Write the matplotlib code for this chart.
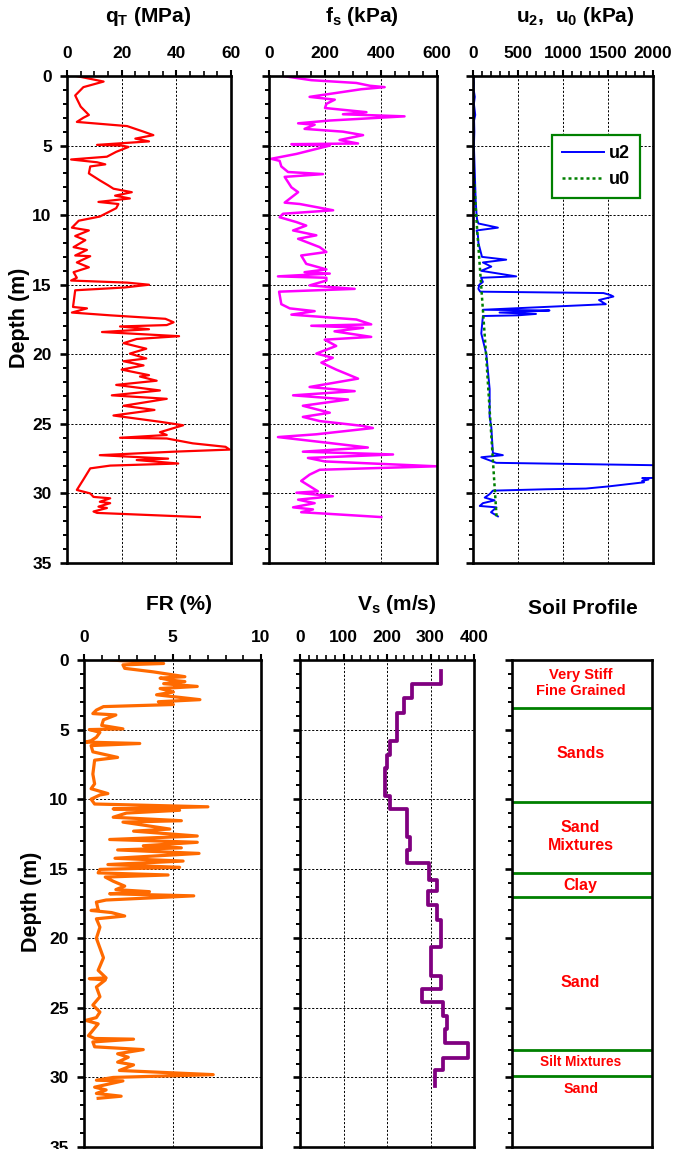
import matplotlib
matplotlib.use("Agg")
import matplotlib.pyplot as plt
import numpy as np
from matplotlib.ticker import MultipleLocator

plt.rcParams['font.family'] = ['Liberation Sans', 'DejaVu Sans']
plt.rcParams['font.weight'] = 'bold'
plt.rcParams['mathtext.fontset'] = 'custom'
plt.rcParams['mathtext.rm'] = 'Liberation Sans:bold'
plt.rcParams['mathtext.it'] = 'Liberation Sans:bold'
plt.rcParams['mathtext.bf'] = 'Liberation Sans:bold'

# ---------------- data (depth m, value) ----------------
QT = [(0.0, 3.4), (0.4, 13.4), (0.8, 6), (1.4, 3), (1.8, 4), (2.2, 5), (2.5, 6.5), (2.8, 8), (3.0, 6),
      (3.3, 3.6), (3.6, 22), (3.8, 25), (4.0, 28), (4.25, 31.6), (4.5, 25), (4.7, 30), (4.95, 11),
      (5.0, 20), (5.1, 22.5), (5.45, 18), (5.8, 14.6), (6.0, 1.5), (6.2, 11), (6.35, 14), (6.5, 8.5),
      (7.0, 8), (7.5, 12), (7.85, 15), (8.1, 17), (8.35, 23.7), (8.6, 17.6), (8.8, 23), (9.05, 11.5),
      (9.2, 18.8), (9.5, 18), (10.1, 12), (10.4, 4.3), (10.9, 1.8), (11.1, 8), (11.5, 3), (11.8, 6.7),
      (12.3, 2.4), (12.5, 7.3), (12.9, 3), (12.95, 8.5), (13.4, 3.6), (13.75, 8), (14.1, 2.4),
      (14.5, 3.6), (14.7, 1.5), (14.85, 22), (15.0, 30), (15.2, 21), (15.4, 3), (16.6, 2.2),
      (16.7, 7.3), (17.0, 1.8), (17.2, 15.8), (17.45, 36), (17.7, 39), (17.9, 36.5), (18.0, 19.4),
      (18.2, 30), (18.4, 12.8), (18.7, 41), (18.9, 25.5), (19.2, 20.7), (19.6, 29), (19.95, 23),
      (20.3, 29), (20.5, 20.7), (20.8, 28), (21.1, 20), (21.5, 30), (21.6, 26.7), (21.9, 32.8),
      (22.2, 18), (22.6, 34), (22.95, 16.4), (23.2, 36.5), (23.7, 20.7), (24.0, 32), (24.4, 17),
      (24.85, 34), (25.1, 42.5), (25.6, 34), (25.8, 36.5), (26.0, 19.4), (26.05, 36.5), (26.4, 46),
      (26.65, 58), (26.85, 59.5), (27.0, 39), (27.25, 12), (27.5, 37), (27.6, 25.5), (27.85, 40.7),
      (28.0, 15.8), (28.2, 8.5), (29.0, 6), (29.75, 3.6), (30.0, 8.5), (30.25, 9.7), (30.35, 15.8),
      (30.6, 12), (30.7, 15.8), (30.95, 11.5), (31.05, 14.6), (31.3, 9.7), (31.4, 11), (31.7, 48.6)]

FS = [(0, 50), (0.3, 151), (0.5, 312), (0.7, 360), (0.8, 413), (0.95, 330), (1.5, 145), (1.7, 235),
      (2.0, 205), (2.3, 200), (2.6, 348), (2.75, 264), (2.9, 484), (3.2, 217), (3.4, 104), (3.5, 163),
      (3.8, 127), (4.0, 264), (4.25, 336), (4.6, 252), (4.85, 318), (4.9, 80), (5.0, 217), (5.6, 98),
      (5.95, 8), (6.1, 38), (6.5, 44), (6.9, 68), (7.05, 193), (7.25, 56), (8.0, 80), (8.35, 104),
      (9.1, 56), (9.2, 110), (9.65, 229), (9.9, 50), (10.15, 38), (10.5, 98), (10.75, 133), (11.1, 86),
      (11.45, 169), (11.7, 104), (12.3, 181), (12.65, 205), (12.9, 115), (13.5, 133), (13.9, 205),
      (14.1, 127), (14.2, 217), (14.4, 32), (14.5, 205), (14.7, 205), (15.05, 145), (15.3, 306),
      (15.5, 36), (16.4, 44), (16.7, 74), (16.9, 163), (17.15, 80), (17.5, 312), (17.85, 365),
      (17.95, 151), (18.1, 336), (18.35, 234), (18.75, 365), (18.95, 199), (19.4, 240), (19.95, 169),
      (20.25, 228), (20.6, 187), (21.1, 240), (21.45, 282), (21.75, 318), (22.35, 145), (22.65, 306),
      (22.95, 86), (23.25, 282), (23.7, 121), (24.2, 217), (24.5, 121), (24.8, 181), (25.15, 336),
      (25.3, 371), (25.75, 169), (25.95, 32), (26.35, 205), (26.7, 353), (27.0, 121), (27.2, 443),
      (27.45, 139), (27.7, 199), (28.05, 597), (28.3, 181), (28.65, 145), (29.1, 115), (29.85, 175),
      (29.95, 98), (30.2, 228), (30.45, 104), (30.7, 163), (31.0, 86), (31.15, 157), (31.35, 115),
      (31.45, 199), (31.7, 401)]

U2 = [(0, 5), (0.5, 10), (1, 8), (1.5, 20), (2, 10), (2.8, 25), (3.2, 12), (4, 15), (5, 10), (6, 15),
      (7, 20), (8, 25), (9, 30), (10, 40), (10.3, 45), (10.6, 60), (10.9, 277), (11.1, 40), (11.5, 55),
      (12, 60), (12.5, 80), (13.0, 100), (13.2, 369), (13.4, 110), (13.7, 203), (14.0, 90),
      (14.4, 480), (14.5, 90), (14.8, 110), (15.0, 70), (15.3, 60), (15.5, 80), (15.6, 1450),
      (15.75, 1530), (15.85, 1560), (16.1, 1400), (16.3, 1450), (16.4, 1476), (16.8, 110),
      (16.85, 850), (16.9, 700), (17.0, 295), (17.1, 700), (17.2, 500), (17.25, 110), (18.5, 92),
      (20, 148), (22.5, 185), (24.5, 185), (25.2, 203), (27.1, 221), (27.25, 332), (27.4, 92),
      (27.8, 258), (28.0, 2300), (28.85, 2300), (28.9, 1880), (29.0, 1950), (29.1, 1880),
      (29.2, 1900), (29.5, 1500), (29.65, 1255), (29.7, 812), (29.8, 221), (30.05, 185), (30.3, 130),
      (30.5, 240), (30.7, 110), (30.9, 75), (31.0, 260), (31.35, 200), (31.65, 277)]

U0 = [(0, 0), (6, 0), (10, 35), (15, 90), (20, 145), (25, 195), (30, 245), (31.7, 262)]

FR = [(0, 1.55), (0.25, 4.5), (0.35, 2.2), (0.6, 2.3), (0.85, 3.9), (1.2, 5.7), (1.3, 4.3),
      (1.45, 4.9), (1.55, 5.7), (1.7, 4.5), (1.9, 6.4), (2.05, 4.3), (2.3, 5.05), (2.5, 4.1),
      (2.85, 6.55), (3.0, 4.2), (3.2, 5.05), (3.35, 1.1), (3.6, 0.7), (3.85, 0.5), (3.95, 1.8),
      (4.3, 1.1), (4.7, 1.0), (4.95, 2.2), (5.0, 0.3), (5.2, 0.9), (5.55, 0.7), (5.8, 0.4), (5.9, 0.1),
      (6.0, 3.15), (6.15, 0.4), (6.6, 0.5), (7.0, 1.9), (7.2, 0.6), (8.2, 0.5), (8.9, 0.6), (9.25, 0.4),
      (9.6, 1.35), (9.7, 0.9), (10.0, 0.4), (10.35, 0.6), (10.55, 7.0), (10.7, 1.65), (10.8, 5.4),
      (11.0, 2.4), (11.3, 1.65), (11.55, 5.5), (11.65, 2.2), (12.15, 4.85), (12.3, 2.8), (12.65, 6.4),
      (12.9, 1.45), (13.1, 6.4), (13.35, 3.35), (13.5, 5.5), (13.65, 1.9), (13.9, 6.5), (14.25, 1.75),
      (14.45, 5.6), (14.7, 1.35), (14.9, 5.4), (15.05, 0.9), (15.3, 0.8), (15.45, 4.75), (15.6, 1.2),
      (15.9, 1.65), (16.25, 2.3), (16.5, 1.8), (16.65, 3.7), (16.8, 1.45), (16.95, 6.2), (17.25, 1.25),
      (17.4, 0.7), (17.95, 0.8), (18.0, 0.4), (18.15, 1.55), (18.4, 2.3), (18.6, 0.7), (19.2, 0.9),
      (20.0, 0.7), (21.4, 1.1), (22.3, 0.8), (22.85, 1.25), (22.9, 0.3), (23.0, 1.2), (23.5, 0.7),
      (24.2, 0.9), (24.8, 0.5), (25.3, 0.9), (25.7, 0.7), (25.9, 0.1), (26.15, 0.8), (27.0, 0.25),
      (27.2, 0.6), (27.25, 2.8), (27.45, 0.5), (27.8, 0.6), (28.0, 3.35), (28.3, 1.9), (28.55, 2.5),
      (28.9, 1.9), (29.1, 2.8), (29.5, 2.0), (29.8, 7.3), (30.0, 1.65), (30.2, 0.7), (30.25, 2.2),
      (30.7, 0.6), (30.9, 1.25), (31.15, 0.7), (31.35, 2.1), (31.5, 0.8)]

VS_TOP = [0.77, 1.75, 2.75, 3.8, 5.8, 6.85, 7.75, 9.8, 10.7, 12.75, 13.65, 14.6, 15.8, 16.6,
          17.6, 18.65, 20.6, 22.7, 23.65, 24.55, 25.6, 26.55, 27.5, 28.6, 29.5, 29.8]
VS_BOTTOM = 30.6
VS = [323, 258, 239, 224, 208, 200, 195, 208, 245, 252, 246, 297, 314, 295,
      314, 325, 300, 325, 281, 329, 337, 333, 386, 329, 310, 311]

SOIL_BOUNDS = [3.45, 10.2, 15.3, 17.0, 28.0, 29.9]
SOIL_LABELS = ["Very Stiff\nFine Grained", "Sands", "Sand\nMixtures", "Clay", "Sand",
               "Silt Mixtures", "Sand"]
SOIL_LABEL_DEPTHS = [1.65, 6.7, 12.65, 16.2, 23.2, 28.9, 30.8]
SOIL_LABEL_SIZES = [10.5, 11.5, 11.5, 11.5, 11.5, 9.8, 10.3]

# ---------------- figure ----------------
W, H = 673, 1149
fig = plt.figure(figsize=(W / 100, H / 100), dpi=100)


def add_ax(l, t, r, b):
    return fig.add_axes([l / W, 1 - b / H, (r - l) / W, (b - t) / H])


grid_ls = (0, (2.2, 1.8))
TICK_FS = 12.5


def style(ax, xlim, xmajor, xminor, ylabels=False, grid=True, xticks=True):
    ax.set_ylim(35, 0)
    ax.set_xlim(*xlim)
    ax.yaxis.set_major_locator(MultipleLocator(5))
    ax.yaxis.set_minor_locator(MultipleLocator(1))
    for s in ax.spines.values():
        s.set_linewidth(1.9)
    ax.tick_params(axis='y', which='major', direction='out', length=5, width=1.9,
                   labelsize=TICK_FS, pad=6, left=True, right=False, labelleft=ylabels)
    ax.tick_params(axis='y', which='minor', direction='out', length=3, width=1.4,
                   left=True, right=False)
    if xticks:
        ax.set_xticks(xmajor)
        ax.xaxis.set_minor_locator(MultipleLocator(xminor))
        ax.tick_params(axis='x', which='major', direction='out', length=4, width=1.5,
                       labelsize=TICK_FS, pad=7, top=True, bottom=False, labeltop=True,
                       labelbottom=False)
        ax.tick_params(axis='x', which='minor', direction='out', length=3.5, width=1.2,
                       top=True, bottom=False)
    else:
        ax.set_xticks([])
    if grid:
        ax.grid(True, which='major', color='black', linestyle=grid_ls, linewidth=0.7)
    for lab in ax.get_xticklabels() + ax.get_yticklabels():
        lab.set_fontweight('bold')


# Top row
ax1 = add_ax(67, 76, 231, 563)
d, v = zip(*QT)
ax1.plot(v, d, color='#FF0000', lw=1.6)
style(ax1, (0, 60), [0, 20, 40, 60], 5, ylabels=True)

ax2 = add_ax(269, 76, 437, 563)
d, v = zip(*FS)
ax2.plot(v, d, color='#FF00FF', lw=1.8)
style(ax2, (0, 600), [0, 200, 400, 600], 50)

ax3 = add_ax(473, 76, 653, 563)
d, v = zip(*U2)
ax3.plot(v, d, color='#0000FF', lw=1.4, label='u2')
d, v = zip(*U0)
ax3.plot(v, d, color='#008000', lw=1.8, linestyle=(0, (1.2, 1.2)), label='u0')
style(ax3, (0, 2000), [0, 500, 1000, 1500, 2000], 100)
leg = ax3.legend(loc='upper right', bbox_to_anchor=(0.93, 0.879), borderaxespad=0,
                 fancybox=False, edgecolor='#008000', framealpha=1, fontsize=13,
                 handlelength=2.3, borderpad=0.55, labelspacing=0.5, handletextpad=0.3)
leg.get_frame().set_linewidth(1.6)

# Bottom row
ax4 = add_ax(84, 660, 261, 1147)
d, v = zip(*FR)
ax4.plot(v, d, color='#FF6A00', lw=2.3)
style(ax4, (0, 10), [0, 5, 10], 1, ylabels=True)

ax5 = add_ax(300, 660, 474, 1147)
xs, ys = [], []
bounds = VS_TOP + [VS_BOTTOM]
for i, vel in enumerate(VS):
    xs += [vel, vel]
    ys += [bounds[i], bounds[i + 1]]
ax5.plot(xs, ys, color='#800080', lw=2.7)
style(ax5, (0, 400), [0, 100, 200, 300, 400], 20)

ax6 = add_ax(512, 660, 652, 1147)
style(ax6, (0, 1), [], 1, grid=False, xticks=False)
for b in SOIL_BOUNDS:
    ax6.plot([0, 1], [b, b], color='#008000', lw=2)
for lab, dep, fs in zip(SOIL_LABELS, SOIL_LABEL_DEPTHS, SOIL_LABEL_SIZES):
    ax6.text(0.49, dep, lab, color='#FF0000', ha='center', va='center', fontsize=fs,
             fontweight='bold', linespacing=1.25)

# Titles and axis labels
def ftext(x, y, s, **kw):
    fig.text(x / W, 1 - y / H, s, ha='center', va='center', fontweight='bold', **kw)

TITLE_FS = 15
ftext(148, 17, r'q$_\mathrm{T}$ (MPa)', fontsize=TITLE_FS)
ftext(362, 17, r'f$_\mathrm{s}$ (kPa)', fontsize=TITLE_FS)
ftext(575, 17, r'u$_\mathrm{2}$,  u$_\mathrm{0}$ (kPa)', fontsize=TITLE_FS)
ftext(179, 605, 'FR (%)', fontsize=TITLE_FS)
ftext(397, 604, r'V$_\mathrm{s}$ (m/s)', fontsize=TITLE_FS)
ftext(583, 608, 'Soil Profile', fontsize=TITLE_FS)
ftext(20, 318, 'Depth (m)', fontsize=15.5, rotation=90)
ftext(31, 902, 'Depth (m)', fontsize=15.5, rotation=90)

fig.savefig('out.png', dpi=100)
